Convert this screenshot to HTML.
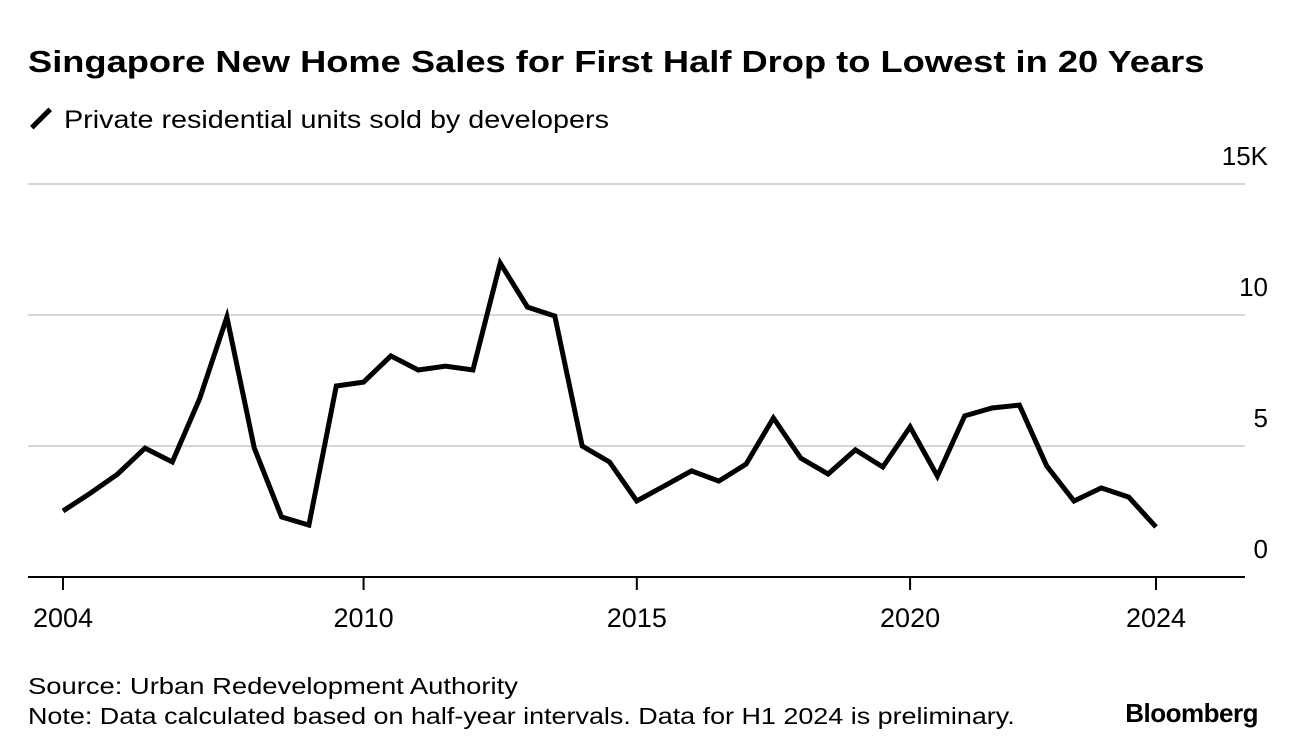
<!DOCTYPE html>
<html><head><meta charset="utf-8"><style>
body{margin:0;width:1296px;height:756px;background:#fff;font-family:"Liberation Sans",sans-serif;color:#000;overflow:hidden;position:relative}
.t{position:absolute;white-space:nowrap;transform-origin:left top}
</style></head><body>
<div class="t" style="left:28px;top:44px;font-size:31px;font-weight:bold;transform:scaleX(1.17)">Singapore New Home Sales for First Half Drop to Lowest in 20 Years</div>
<div class="t" style="left:28px;top:106px;font-size:25px"><span style="display:inline-block;width:26px;height:5px;background:#000;transform:rotate(-45deg);vertical-align:middle;margin-right:10px;position:relative;top:-3px"></span><span style="display:inline-block;transform:scaleX(1.15);transform-origin:left">Private residential units sold by developers</span></div>
<svg id="chart" width="1296" height="756" style="position:absolute;left:0;top:0"></svg>
<div class="t" style="left:28px;top:673px;font-size:23px;transform:scaleX(1.19)">Source: Urban Redevelopment Authority</div>
<div class="t" style="left:28px;top:703px;font-size:23px;transform:scaleX(1.17)">Note: Data calculated based on half-year intervals. Data for H1 2024 is preliminary.</div>
<div class="t" style="right:38px;top:698px;font-size:26px;font-weight:bold;letter-spacing:-0.5px">Bloomberg</div>
<script>
const xTickLabels=["2004","2010","2015","2020","2024"];
const xTickPos=[2004,2009.5,2014.5,2019.5,2024];
const yTicks=[0,5,10,15];
const yTickLabels=["0","5","10","15K"];
const startYear=2004;
const values=[2.52,3.2,3.93,4.92,4.39,6.8,9.92,4.92,2.29,1.98,7.29,7.44,8.44,7.9,8.05,7.9,11.98,10.3,9.96,5.0,4.39,2.9,3.47,4.05,3.66,4.31,6.07,4.54,3.93,4.85,4.2,5.73,3.85,6.15,6.45,6.56,4.24,2.9,3.4,3.05,1.91];
const svg=document.getElementById('chart');const NS='http://www.w3.org/2000/svg';
const x=yr=>63+(yr-2004)*54.65;
const y=v=>577-v*26.2;
function mk(tag,at){const e=document.createElementNS(NS,tag);for(const k in at)e.setAttribute(k,at[k]);svg.appendChild(e);return e;}
yTicks.forEach((t,i)=>{
 if(t>0){const g=mk('line',{x1:28,x2:1245,y1:y(t),y2:y(t),stroke:'#d6d6d6','stroke-width':2});
 
 }
 const l=mk('text',{x:1268,y:y(t)-19,'text-anchor':'end','font-size':26,'font-family':'Liberation Sans, sans-serif'});
 l.textContent=yTickLabels[i];
 
 
});
const ax=mk('line',{x1:28,x2:1245,y1:577,y2:577,stroke:'#000','stroke-width':2});


xTickPos.forEach((yr,i)=>{
 const tk=mk('line',{x1:x(yr),x2:x(yr),y1:577,y2:590,stroke:'#000','stroke-width':2});
 
 
 const l=mk('text',{x:x(yr),y:627,'text-anchor':'middle','font-size':27,'font-family':'Liberation Sans, sans-serif'});
 l.textContent=xTickLabels[i];
 
 
});
const pts=values.map((v,i)=>x(startYear+i*0.5).toFixed(1)+','+y(v).toFixed(1)).join(' ');
const pl=mk('polyline',{points:pts,fill:'none',stroke:'#000','stroke-width':5,'stroke-linejoin':'miter','stroke-linecap':'butt'});


</script>
</body></html>
